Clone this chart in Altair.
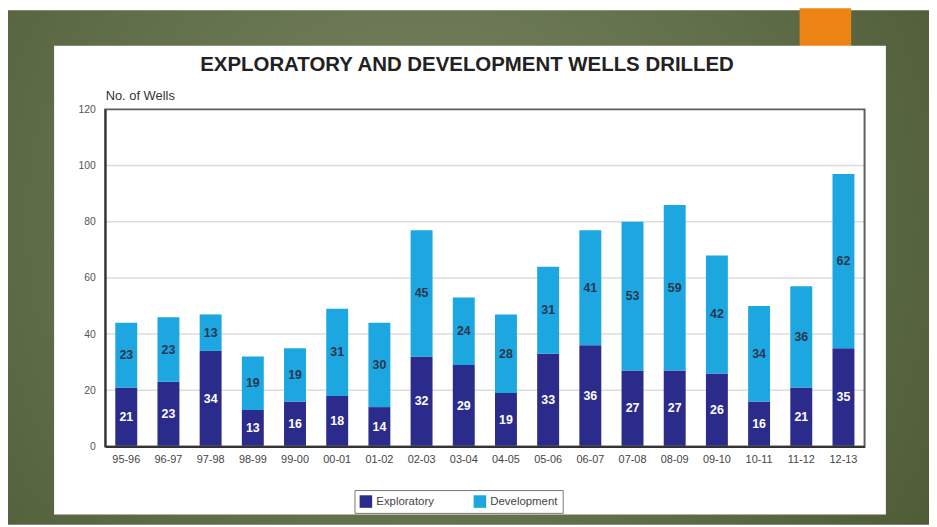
import altair as alt
import pandas as pd

# ---- data ----
years = ["95-96", "96-97", "97-98", "98-99", "99-00", "00-01", "01-02", "02-03", "03-04",
         "04-05", "05-06", "06-07", "07-08", "08-09", "09-10", "10-11", "11-12", "12-13"]
exploratory = [21, 23, 34, 13, 16, 18, 14, 32, 29, 19, 33, 36, 27, 27, 26, 16, 21, 35]
development = [23, 23, 13, 19, 19, 31, 30, 45, 24, 28, 31, 41, 53, 59, 42, 34, 36, 62]
series = ["Exploratory", "Development"]
series_colors = ["#2b2b8c", "#1ca7e1"]
y_ticks = [0, 20, 40, 60, 80, 100, 120]
grid_ticks = [20, 40, 60, 80, 100]
title_text = "EXPLORATORY AND DEVELOPMENT WELLS DRILLED"
y_title = "No. of Wells"

rows = []
for i, yr in enumerate(years):
    rows.append({"Year": yr, "Type": series[0], "Count": exploratory[i], "ord": 0})
    rows.append({"Year": yr, "Type": series[1], "Count": development[i], "ord": 1})
df = pd.DataFrame(rows)
one = pd.DataFrame({"k": [0]})
grid_df = pd.DataFrame({"g": grid_ticks})

FONT = "Liberation Sans"
W, H = 766, 340
PAD = {"left": 98, "top": 100, "right": 65, "bottom": 79}

x_enc = alt.X("Year:N", sort=years,
              scale=alt.Scale(paddingInner=0.48, paddingOuter=0.24),
              axis=alt.Axis(title=None, labelAngle=0, ticks=False, labelFontSize=11,
                            labelColor="#444444", labelPadding=7, domainColor="#333333",
                            domainWidth=2, grid=False, zindex=1, labelFont=FONT))
y_scale = alt.Scale(domain=[0, 120], nice=False)
y_axis = alt.Axis(title=None, values=y_ticks, ticks=False, grid=False, labelFontSize=10.5,
                  labelColor="#555555", labelPadding=10, domainColor="#333333",
                  domainWidth=2, zindex=1, labelFont=FONT)

# slide background (gradient), orange tab and white panel
bg = alt.Chart(one).mark_rect(
    color=alt.RadialGradient(gradient="radial", x1=0.45, y1=0.45, x2=0.45, y2=0.45, r1=0, r2=0.75,
                             stops=[alt.GradientStop(offset=0, color="#7a8663"),
                                    alt.GradientStop(offset=0.55, color="#5f6c48"),
                                    alt.GradientStop(offset=1, color="#47542f")])
).encode(x=alt.value(-PAD["left"]), x2=alt.value(W + PAD["right"]),
         y=alt.value(-PAD["top"]), y2=alt.value(H + PAD["bottom"]))

tab = alt.Chart(one).mark_rect(color="#ec8413").encode(
    x=alt.value(700.5), x2=alt.value(752.5), y=alt.value(-102), y2=alt.value(-64))

panel = alt.Chart(one).mark_rect(color="white").encode(
    x=alt.value(-51.5), x2=alt.value(787.5), y=alt.value(-64.3), y2=alt.value(408.7))

grid = alt.Chart(grid_df).mark_rule(color="#dcdcdc", strokeWidth=1.5).encode(
    y=alt.Y("g:Q", scale=y_scale, axis=y_axis))

bars = alt.Chart(df).mark_bar().encode(
    x=x_enc,
    y=alt.Y("Count:Q", stack="zero", scale=y_scale, axis=y_axis),
    color=alt.Color("Type:N", sort=series,
                    scale=alt.Scale(domain=series, range=series_colors),
                    legend=alt.Legend(title=None, orient="none", legendX=251.5, legendY=384,
                                      direction="horizontal", symbolType="square",
                                      symbolSize=160, symbolStrokeWidth=0,
                                      labelFontSize=11.5, labelColor="#444444", labelFont=FONT,
                                      gridAlign="all", columnPadding=30, labelOffset=4,
                                      padding=5, fillColor="white", strokeColor="#777777")),
    order=alt.Order("ord:Q", sort="ascending"),
)

labels = alt.Chart(df).transform_stack(
    stack="Count", groupby=["Year"], sort=[alt.SortField("ord", order="ascending")],
    as_=["y0", "y1"]
).transform_calculate(mid="(datum.y0 + datum.y1) / 2").mark_text(
    font=FONT, fontSize=12.5, fontWeight="bold", baseline="middle", align="center"
).encode(
    x=x_enc,
    y=alt.Y("mid:Q", scale=y_scale, axis=y_axis),
    text=alt.Text("Count:Q"),
    color=alt.condition(alt.datum.Type == "Exploratory", alt.value("white"), alt.value("#2c3450")),
)

frame = alt.Chart(one).mark_rect(filled=False, stroke="#5e5e5e", strokeWidth=2).encode(
    x=alt.value(0), x2=alt.value(W), y=alt.value(0), y2=alt.value(H))

title = alt.Chart(one).mark_text(font=FONT, fontSize=20.6, fontWeight="bold", color="#222222",
                                 align="center", baseline="middle").encode(
    x=alt.value(365), y=alt.value(-45), text=alt.value(title_text))

ytitle = alt.Chart(one).mark_text(font=FONT, fontSize=13, color="#333333",
                                  align="left", baseline="middle").encode(
    x=alt.value(0.5), y=alt.value(-13.5), text=alt.value(y_title))

chart = alt.layer(bg, tab, panel, grid, bars, labels, frame, title, ytitle).properties(
    width=W, height=H,
    autosize=alt.AutoSizeParams(type="none"),
    padding=PAD,
).configure_view(strokeWidth=0).configure(font=FONT)

chart.save("out.html", embed_options={"renderer": "svg", "actions": False})
